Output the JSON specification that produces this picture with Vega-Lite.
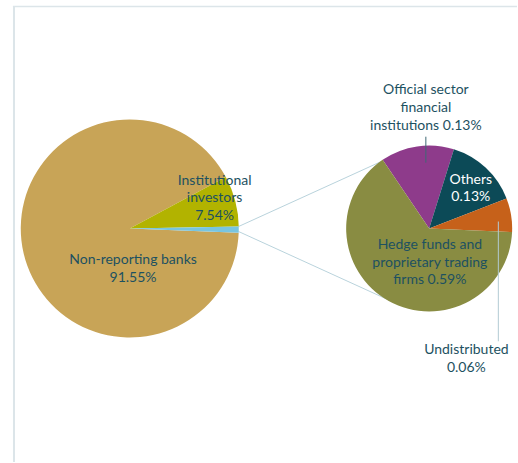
{
  "$schema": "https://vega.github.io/schema/vega-lite/v6.json",
  "width": 518,
  "height": 463,
  "autosize": {"type": "fit", "contains": "padding"},
  "padding": 0,
  "background": "white",
  "config": {"view": {"stroke": null}, "axis": {"disable": true}},
  "data": {
    "values": [
      {"group": "main", "category": "Non-reporting banks", "share": 91.55, "label": "Non-reporting banks\n91.55%"},
      {"group": "main", "category": "Institutional investors", "share": 7.54, "label": "Institutional\ninvestors\n7.54%"},
      {"group": "main", "category": "Other financial institutions", "share": 0.91, "label": ""},
      {"group": "detail", "category": "Official sector financial institutions", "share": 0.13, "label": "Official sector\nfinancial\ninstitutions 0.13%"},
      {"group": "detail", "category": "Others", "share": 0.13, "label": "Others\n0.13%"},
      {"group": "detail", "category": "Undistributed", "share": 0.06, "label": "Undistributed\n0.06%"},
      {"group": "detail", "category": "Hedge funds and proprietary trading firms", "share": 0.59, "label": "Hedge funds and\nproprietary trading\nfirms 0.59%"}
    ]
  },
  "resolve": {"scale": {"theta": "independent"}},
  "layer": [
    {
      "data": {"values": [{}]},
      "mark": {"type": "rule", "color": "#dce5e9", "strokeWidth": 2},
      "encoding": {
        "x": {"datum": 2.703, "type": "quantitative", "scale": {"domain": [0, 100], "nice": false, "zero": false}},
        "y": {"datum": 1.3, "type": "quantitative", "scale": {"domain": [0, 100], "nice": false, "zero": false, "reverse": true}},
        "y2": {"datum": 100}
      }
    },
    {
      "data": {"values": [{}]},
      "mark": {"type": "rule", "color": "#dce5e9", "strokeWidth": 1.5},
      "encoding": {
        "x": {"datum": 2.5, "type": "quantitative"},
        "x2": {"datum": 100},
        "y": {"datum": 1.4, "type": "quantitative"}
      }
    },
    {
      "data": {"values": [{}]},
      "mark": {"type": "rule", "color": "#b9d3dc", "strokeWidth": 1},
      "encoding": {
        "x": {"datum": 46.14, "type": "quantitative"},
        "y": {"datum": 49.03, "type": "quantitative"},
        "x2": {"datum": 74.52},
        "y2": {"datum": 34.56}
      }
    },
    {
      "data": {"values": [{}]},
      "mark": {"type": "rule", "color": "#b9d3dc", "strokeWidth": 1},
      "encoding": {
        "x": {"datum": 46.14, "type": "quantitative"},
        "y": {"datum": 50.11, "type": "quantitative"},
        "x2": {"datum": 74.9},
        "y2": {"datum": 64.79}
      }
    },
    {
      "transform": [{"filter": {"field": "group", "equal": "main"}}],
      "mark": {"type": "arc", "outerRadius": 109},
      "encoding": {
        "x": {"datum": 25.1, "type": "quantitative"},
        "y": {"datum": 49.46, "type": "quantitative"},
        "theta": {"field": "share", "type": "quantitative", "stack": true, "scale": {"range": [1.5523, -4.7309]}},
        "color": {
          "field": "category", "type": "nominal", "legend": null,
          "scale": {
            "domain": ["Institutional investors", "Other financial institutions", "Non-reporting banks", "Official sector financial institutions", "Others", "Undistributed", "Hedge funds and proprietary trading firms"],
            "range": ["#b2b300", "#78c5e0", "#c8a457", "#8e3b8b", "#0c4a57", "#c6611a", "#898c42"]
          }
        }
      }
    },
    {
      "transform": [{"filter": {"field": "group", "equal": "detail"}}],
      "mark": {"type": "arc", "outerRadius": 83},
      "encoding": {
        "x": {"datum": 83.01, "type": "quantitative"},
        "y": {"datum": 49.46, "type": "quantitative"},
        "theta": {"field": "share", "type": "quantitative", "stack": true, "scale": {"range": [1.6144, 7.8976]}},
        "color": {"field": "category", "type": "nominal", "legend": null}
      }
    },
    {
      "data": {"values": [{}]},
      "mark": {"type": "rule", "color": "#3f6874", "strokeWidth": 1},
      "encoding": {
        "x": {"datum": 82.37, "type": "quantitative"},
        "y": {"datum": 29.59, "type": "quantitative"},
        "y2": {"datum": 35.21}
      }
    },
    {
      "data": {"values": [{}]},
      "mark": {"type": "rule", "color": "#b3cbd3", "strokeWidth": 1},
      "encoding": {
        "x": {"datum": 96.39, "type": "quantitative"},
        "y": {"datum": 47.95, "type": "quantitative"},
        "y2": {"datum": 73.87}
      }
    },
    {
      "transform": [{"filter": {"field": "category", "equal": "Non-reporting banks"}}],
      "mark": {"type": "text", "font": "Lato", "fontSize": 14, "color": "#1d5161", "align": "center", "baseline": "alphabetic", "lineBreak": "\n", "lineHeight": 18},
      "encoding": {"x": {"datum": 25.73, "type": "quantitative"}, "y": {"datum": 57.24, "type": "quantitative"}, "text": {"field": "label"}}
    },
    {
      "transform": [{"filter": {"field": "category", "equal": "Institutional investors"}}],
      "mark": {"type": "text", "font": "Lato", "fontSize": 14, "color": "#1d5161", "align": "center", "baseline": "alphabetic", "lineBreak": "\n", "lineHeight": 17.2},
      "encoding": {"x": {"datum": 41.51, "type": "quantitative"}, "y": {"datum": 40.11, "type": "quantitative"}, "text": {"field": "label"}}
    },
    {
      "transform": [{"filter": {"field": "category", "equal": "Official sector financial institutions"}}],
      "mark": {"type": "text", "font": "Lato", "fontSize": 14, "color": "#1d5161", "align": "center", "baseline": "alphabetic", "lineBreak": "\n", "lineHeight": 17.8},
      "encoding": {"x": {"datum": 82.37, "type": "quantitative"}, "y": {"datum": 20.37, "type": "quantitative"}, "text": {"field": "label"}}
    },
    {
      "transform": [{"filter": {"field": "category", "equal": "Others"}}],
      "mark": {"type": "text", "font": "Lato", "fontSize": 14, "color": "#ffffff", "align": "center", "baseline": "alphabetic", "lineBreak": "\n", "lineHeight": 17.4},
      "encoding": {"x": {"datum": 91.06, "type": "quantitative"}, "y": {"datum": 39.81, "type": "quantitative"}, "text": {"field": "label"}}
    },
    {
      "transform": [{"filter": {"field": "category", "equal": "Hedge funds and proprietary trading firms"}}],
      "mark": {"type": "text", "font": "Lato", "fontSize": 14, "color": "#1d5161", "align": "center", "baseline": "alphabetic", "lineBreak": "\n", "lineHeight": 17.8},
      "encoding": {"x": {"datum": 83.15, "type": "quantitative"}, "y": {"datum": 53.84, "type": "quantitative"}, "text": {"field": "label"}}
    },
    {
      "transform": [{"filter": {"field": "category", "equal": "Undistributed"}}],
      "mark": {"type": "text", "font": "Lato", "fontSize": 14, "color": "#1d5161", "align": "center", "baseline": "alphabetic", "lineBreak": "\n", "lineHeight": 17.3},
      "encoding": {"x": {"datum": 90.21, "type": "quantitative"}, "y": {"datum": 76.67, "type": "quantitative"}, "text": {"field": "label"}}
    }
  ]
}
